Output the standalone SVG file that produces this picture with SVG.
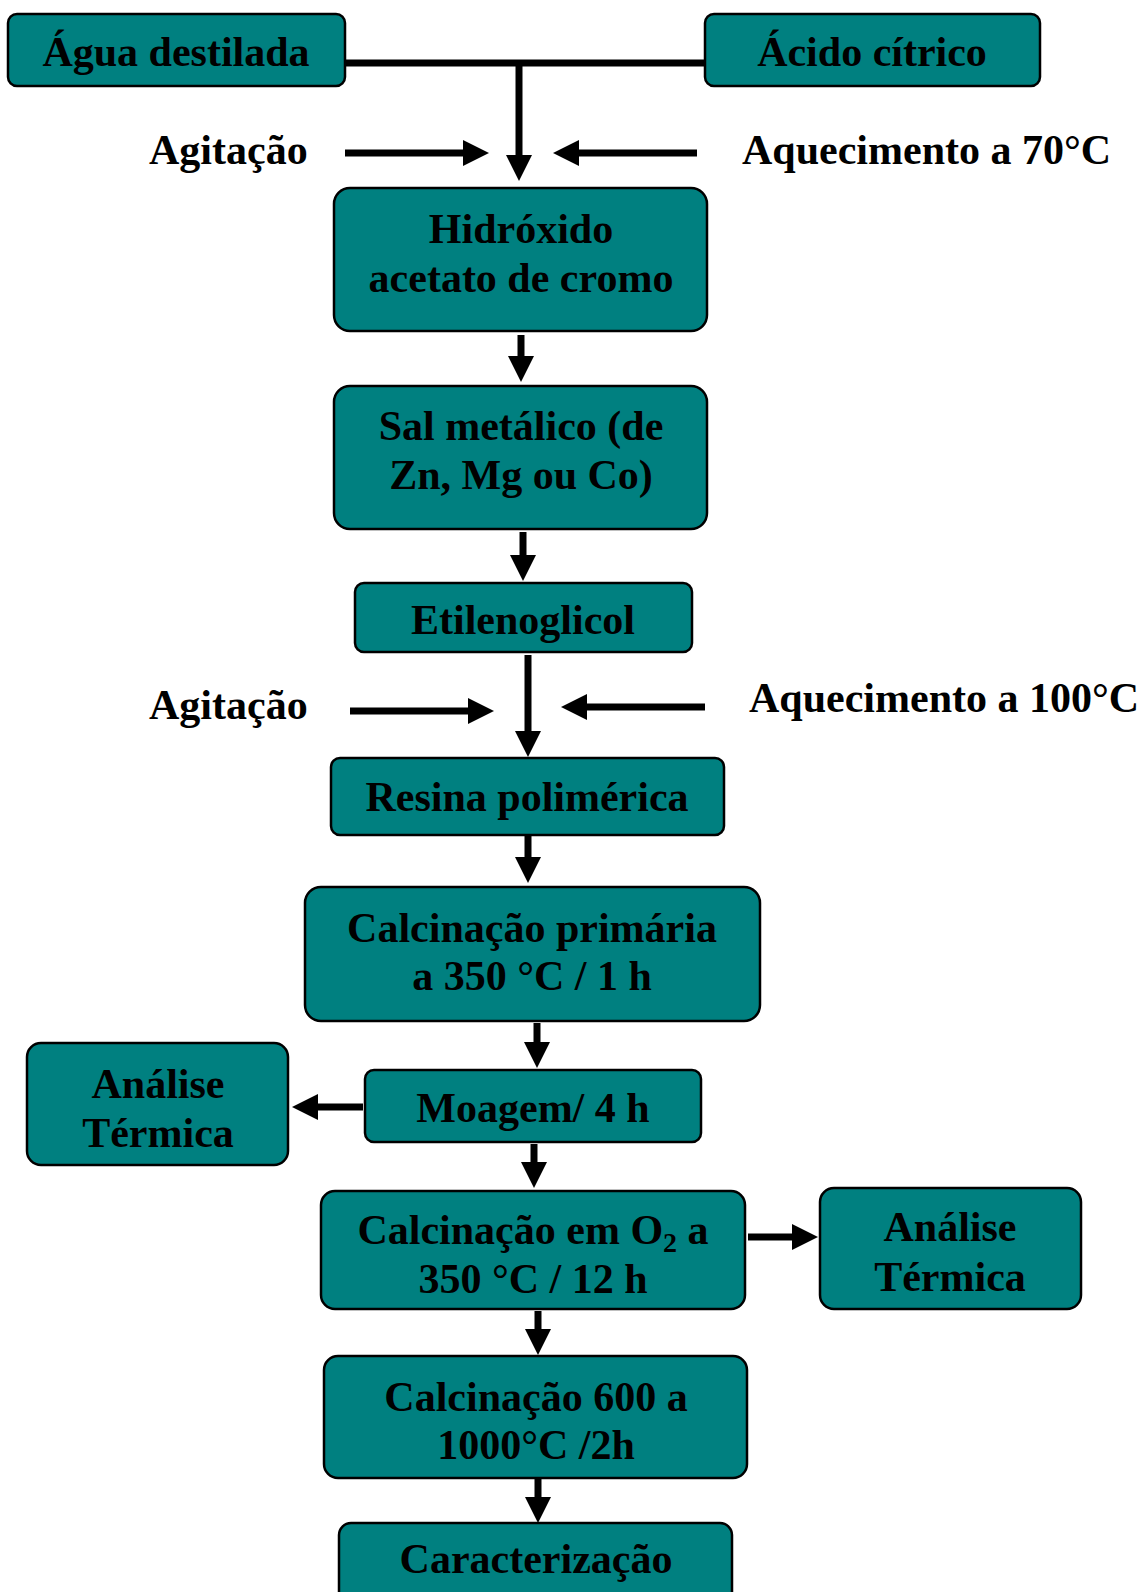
<svg xmlns="http://www.w3.org/2000/svg" width="1148" height="1592" viewBox="0 0 1148 1592">
<style>
.box{fill:#008080;stroke:#000;stroke-width:2.5}
text{font-family:"Liberation Serif","Times New Roman",serif;font-weight:bold;font-size:42px;fill:#000}
.c{text-anchor:middle}
.ln{stroke:#000;stroke-width:7;fill:none}
</style>
<defs>
<marker id="ah" markerUnits="userSpaceOnUse" markerWidth="28" markerHeight="28" refX="2" refY="13" orient="auto">
<path d="M0,0 L26,13 L0,26 z" fill="#000"/>
</marker>
</defs>
<rect width="1148" height="1592" fill="#fff"/>
<g id="connectors">
<path class="ln" d="M345,63 H705"/>
<path class="ln" d="M519,63 V157" marker-end="url(#ah)"/>
<path class="ln" d="M345,153 H465" marker-end="url(#ah)"/>
<path class="ln" d="M697,153 H577" marker-end="url(#ah)"/>
<path class="ln" d="M521,335 V358" marker-end="url(#ah)"/>
<path class="ln" d="M523,532 V557" marker-end="url(#ah)"/>
<path class="ln" d="M528,655 V733" marker-end="url(#ah)"/>
<path class="ln" d="M350,711 H470" marker-end="url(#ah)"/>
<path class="ln" d="M705,707 H585" marker-end="url(#ah)"/>
<path class="ln" d="M528,836 V859" marker-end="url(#ah)"/>
<path class="ln" d="M537,1023 V1044" marker-end="url(#ah)"/>
<path class="ln" d="M363,1107 H316" marker-end="url(#ah)"/>
<path class="ln" d="M534,1144 V1164" marker-end="url(#ah)"/>
<path class="ln" d="M748,1237 H794" marker-end="url(#ah)"/>
<path class="ln" d="M538,1311 V1331" marker-end="url(#ah)"/>
<path class="ln" d="M538,1479 V1499" marker-end="url(#ah)"/>
</g>
<g id="agua"><rect class="box" x="8" y="14" width="337" height="72" rx="9"/><text class="c" x="176" y="66">Água destilada</text></g>
<g id="acido"><rect class="box" x="705" y="14" width="335" height="72" rx="9"/><text class="c" x="872" y="66">Ácido cítrico</text></g>
<g id="agit1"><text x="149" y="164">Agitação</text></g>
<g id="aquec1"><text x="742" y="164">Aquecimento a 70°C</text></g>
<g id="hidroxido"><rect class="box" x="334" y="188" width="373" height="143" rx="16"/><text class="c" x="521" y="243">Hidróxido</text><text class="c" x="521" y="292">acetato de cromo</text></g>
<g id="sal"><rect class="box" x="334" y="386" width="373" height="143" rx="16"/><text class="c" x="521" y="440">Sal metálico (de</text><text class="c" x="521" y="489">Zn, Mg ou Co)</text></g>
<g id="etileno"><rect class="box" x="355" y="583" width="337" height="69" rx="9"/><text class="c" x="523" y="634">Etilenoglicol</text></g>
<g id="agit2"><text x="149" y="719">Agitação</text></g>
<g id="aquec2"><text x="749" y="712">Aquecimento a 100°C</text></g>
<g id="resina"><rect class="box" x="331" y="758" width="393" height="77" rx="9"/><text class="c" x="527" y="811">Resina polimérica</text></g>
<g id="calc1"><rect class="box" x="305" y="887" width="455" height="134" rx="16"/><text class="c" x="532" y="942">Calcinação primária</text><text class="c" x="532" y="990">a 350 °C / 1 h</text></g>
<g id="moagem"><rect class="box" x="365" y="1070" width="336" height="72" rx="9"/><text class="c" x="533" y="1122">Moagem/ 4 h</text></g>
<g id="analise1"><rect class="box" x="27" y="1043" width="261" height="122" rx="14"/><text class="c" x="158" y="1098">Análise</text><text class="c" x="158" y="1147">Térmica</text></g>
<g id="calc2"><rect class="box" x="321" y="1191" width="424" height="118" rx="14"/><text class="c" x="533" y="1244">Calcinação em O<tspan font-size="28" dy="8">2</tspan><tspan dy="-8"> a</tspan></text><text class="c" x="533" y="1293">350 °C / 12 h</text></g>
<g id="analise2"><rect class="box" x="820" y="1188" width="261" height="121" rx="14"/><text class="c" x="950" y="1241">Análise</text><text class="c" x="950" y="1291">Térmica</text></g>
<g id="calc3"><rect class="box" x="324" y="1356" width="423" height="122" rx="14"/><text class="c" x="536" y="1411">Calcinação 600 a</text><text class="c" x="536" y="1459">1000°C /2h</text></g>
<g id="caract"><rect class="box" x="339" y="1523" width="393" height="90" rx="12"/><text class="c" x="536" y="1573">Caracterização</text></g>
</svg>
